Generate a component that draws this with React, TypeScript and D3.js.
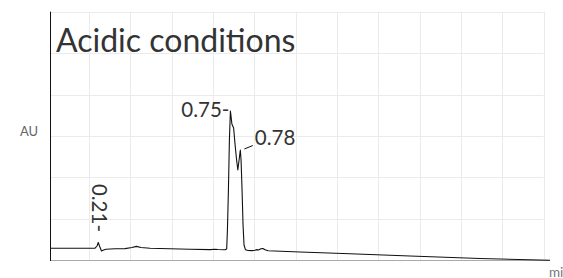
import React from 'react';
import * as d3 from 'd3';

// chromatogram trace, time in min, signal in (arbitrary) AU
const times = [
  0.01, 0.05, 0.13, 0.191, 0.199, 0.204, 0.209, 0.217, 0.223, 0.235, 0.271, 0.312,
  0.34, 0.358, 0.376, 0.413, 0.493, 0.574, 0.655, 0.675, 0.687, 0.715, 0.722, 0.725,
  0.729, 0.733, 0.737, 0.739, 0.743, 0.75, 0.756, 0.762, 0.767, 0.772, 0.777, 0.78,
  0.784, 0.788, 0.792, 0.798, 0.808, 0.824, 0.836, 0.844, 0.85, 0.86, 0.868, 0.877,
  0.889, 1.018, 1.219, 1.461, 1.744, 2.026,
];
const signal = [
  29, 29, 29, 29.2, 34.5, 43, 34.5, 22.4, 24.1, 26.6, 27.8, 28.2,
  30.9, 33.6, 30.9, 29, 27.8, 26.8, 25.8, 26.8, 26.1, 25.3, 27.3, 73.1,
  169.7, 290.4, 360.4, 350.7, 329, 319.3, 278.3, 242.1, 218, 242.1, 266.2, 242.1,
  169.7, 85.2, 36.9, 25.3, 23.7, 23.4, 24.1, 25.8, 24.9, 27.8, 28.5, 25.3,
  22.9, 20, 15.9, 10.4, 4.3, 0,
];

// peak annotations
const peakLabels = ['0.21-', '0.75-', '0.78'];

const xGridTicks = d3.range(1, 13).map(k => k / 6);
const yGridTicks = [100, 200, 300, 400, 500, 600];

const title = 'Acidic conditions';
const yLabel = 'AU';
const xLabel = 'min';

const width = 563;
const height = 278;

const App: React.FC = () => {
  const x = d3.scaleLinear().domain([0, 2]).range([47.7, 543.5]);
  const y = d3.scaleLinear().domain([0, 600]).range([260.3, 11.7]);

  const plotLeft = 50.5;
  const plotRight = x(2);
  const axisEnd = x(times[times.length - 1]);

  const pts: [number, number][] = times.map((t, i) => [t, signal[i]]);
  const line = d3.line<[number, number]>()
    .x(d => x(d[0]))
    .y(d => y(d[1]));

  const font = 'Lato, "Open Sans", sans-serif';

  // peak positions for the labels
  const p021 = times.indexOf(0.204);
  const p075 = times.indexOf(0.737);
  const p078 = times.indexOf(0.777);

  return (
    <svg width={width} height={height} style={{ position: 'absolute', left: 0, top: 0, background: 'white' }}
      fontFamily={font}>
      {/* grid */}
      {xGridTicks.map(t => (
        <line key={'gx' + t} x1={Math.round(x(t)) + 0.5} x2={Math.round(x(t)) + 0.5}
          y1={y(600)} y2={y(0)} stroke="#ebebeb" strokeWidth={1} />
      ))}
      {yGridTicks.map(v => (
        <line key={'gy' + v} x1={plotLeft} x2={plotRight}
          y1={Math.round(y(v)) + 0.5} y2={Math.round(y(v)) + 0.5} stroke="#ebebeb" strokeWidth={1} />
      ))}

      {/* axes */}
      <line x1={plotLeft} x2={axisEnd} y1={260.5} y2={260.5} stroke="#aaa" strokeWidth={1} />
      <line x1={plotLeft} x2={plotLeft} y1={y(600)} y2={261} stroke="#111" strokeWidth={1} />

      {/* trace */}
      <path d={line(pts) || ''} fill="none" stroke="#111" strokeWidth={1.1} strokeLinejoin="round" />

      {/* title */}
      <text x={56} y={52} fontSize={32} fill="#333">{title}</text>

      {/* axis labels */}
      <text x={20} y={136} fontSize={13} fill="#666">{yLabel}</text>
      <text x={549} y={276.5} fontSize={13.5} fill="#777">{xLabel}</text>

      {/* peak labels */}
      <text transform={`translate(${x(times[p021]) - 5.8},232) rotate(90)`}
        fontSize={20.5} fill="#333" textAnchor="end">{peakLabels[0]}</text>
      <text x={x(times[p075]) - 1} y={116.5} fontSize={20.5} fill="#333" textAnchor="end">{peakLabels[1]}</text>
      <line x1={x(times[p078]) + 4} y1={149} x2={x(times[p078]) + 12.5} y2={145.5} stroke="#111" strokeWidth={1} />
      <text x={x(times[p078]) + 14.5} y={145} fontSize={20.5} fill="#333">{peakLabels[2]}</text>
    </svg>
  );
};

export default App;
